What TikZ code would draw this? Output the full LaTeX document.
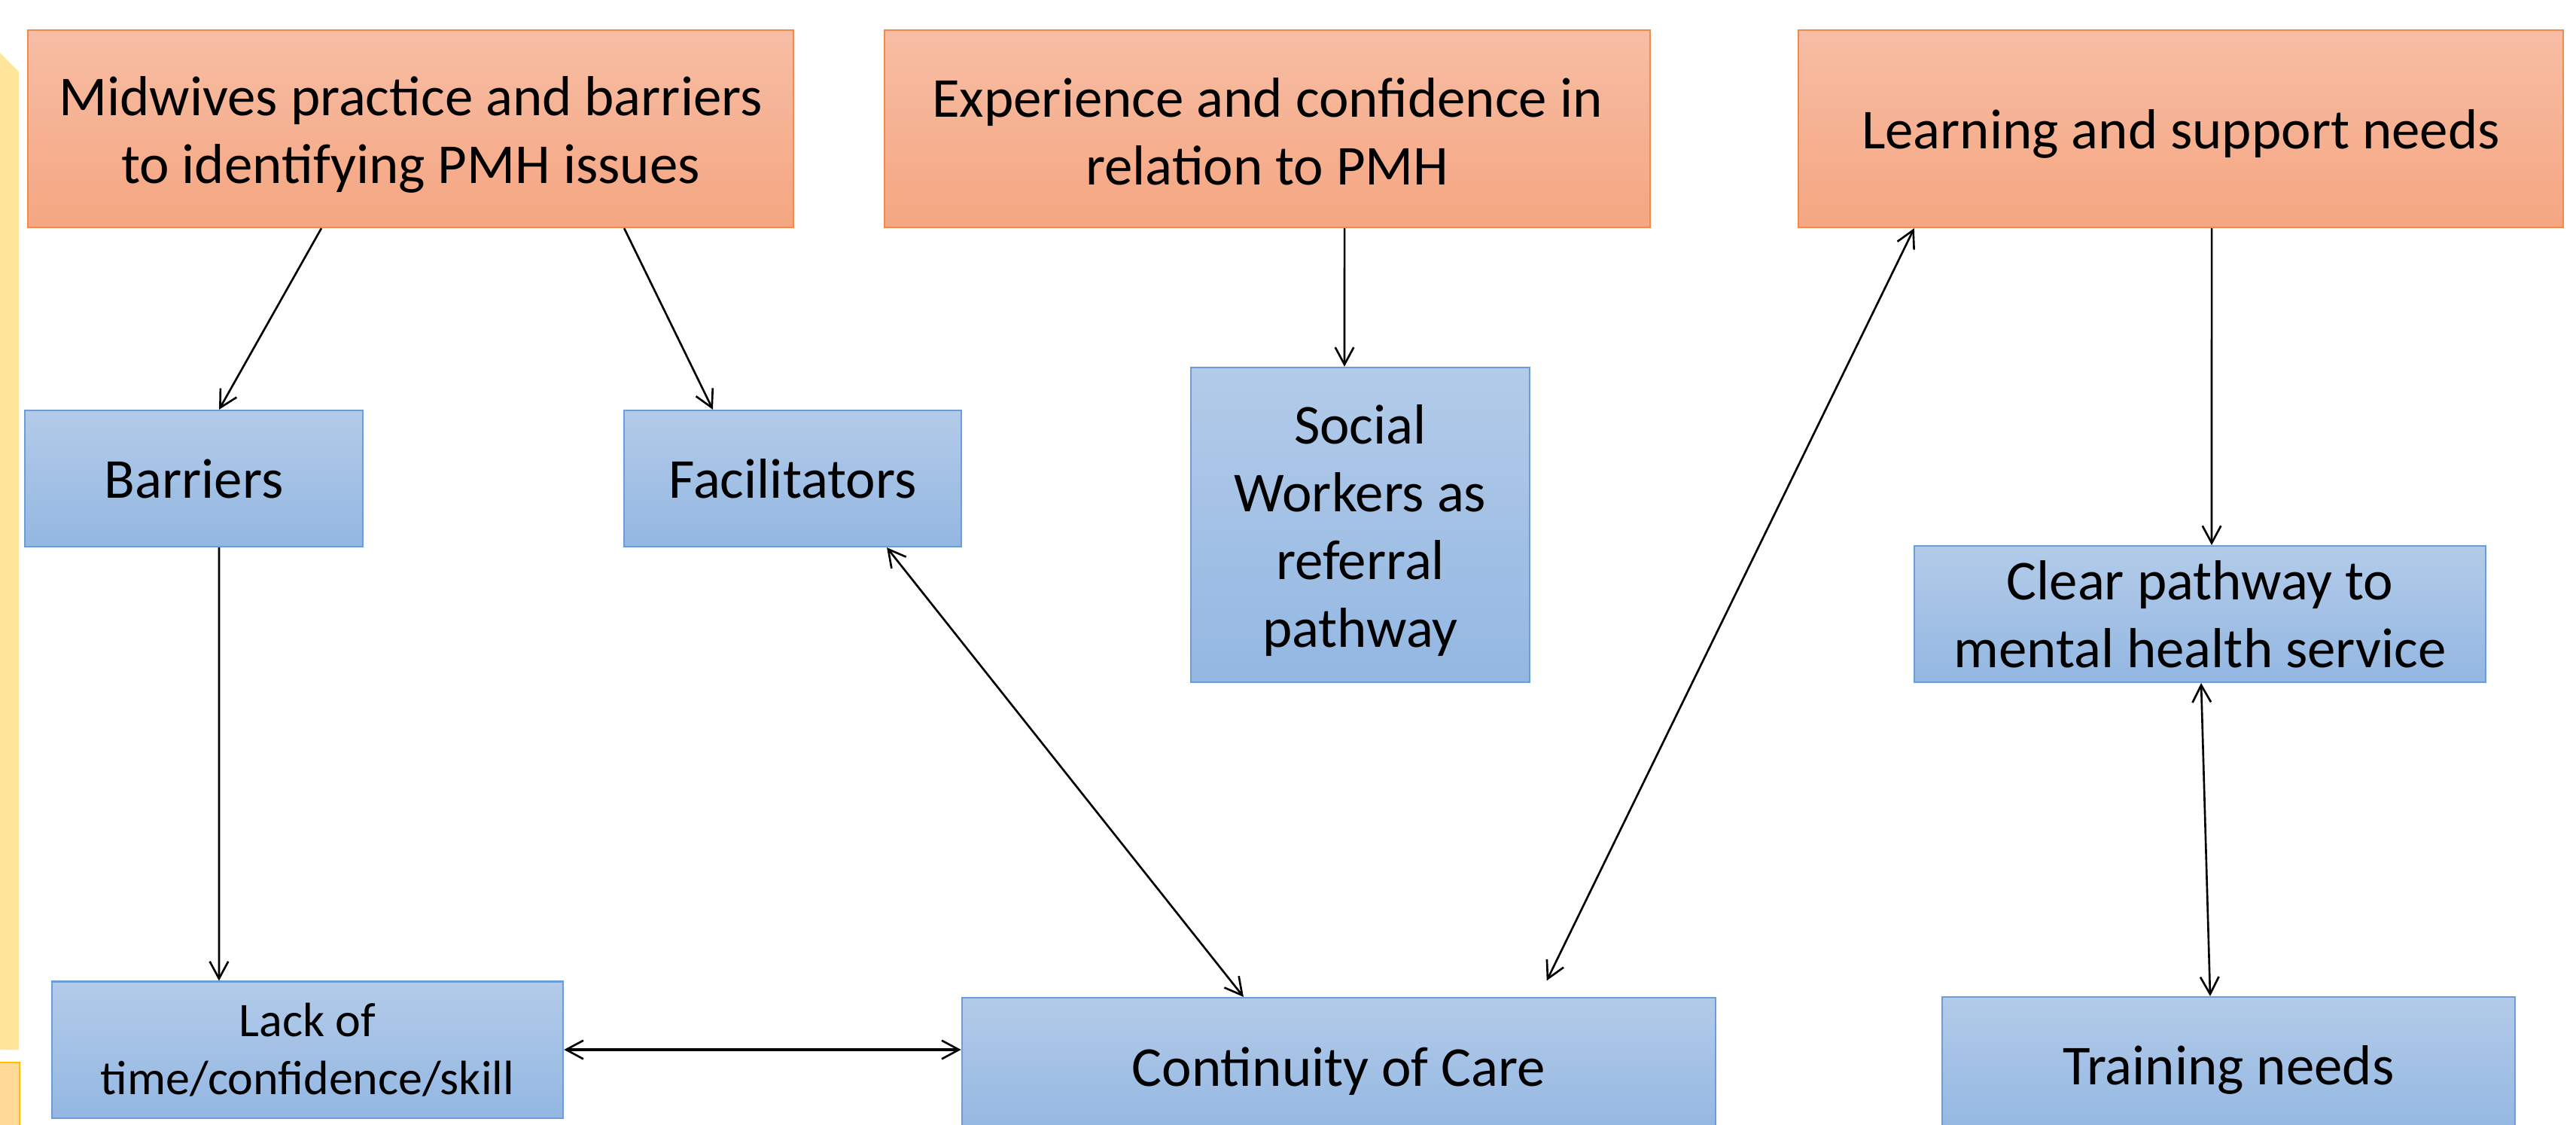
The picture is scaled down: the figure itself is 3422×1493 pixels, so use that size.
\documentclass[tikz,border=0pt]{standalone}
\usepackage{fontspec}
\setmainfont{Carlito}
\usepackage{tikz}
\usetikzlibrary{arrows.meta}

\definecolor{peachtop}{HTML}{F7BDA4}
\definecolor{peachbot}{HTML}{F5A681}
\definecolor{peachline}{HTML}{F28A4E}
\definecolor{skytop}{HTML}{B3CBE9}
\definecolor{skybot}{HTML}{93B7E2}
\definecolor{skyline}{HTML}{6A9DDA}
\definecolor{sunfill}{HTML}{FFE69A}
\definecolor{goldfill}{HTML}{FFD995}
\definecolor{goldline}{HTML}{FFC000}

\tikzset{
  theme/.style={draw=peachline, line width=0.6pt, top color=peachtop, bottom color=peachbot,
    align=center, inner sep=0pt, minimum width=10.16cm, minimum height=2.62cm,
    font=\fontsize{21.3}{25.6}\selectfont},
  item/.style={draw=skyline, line width=0.6pt, top color=skytop, bottom color=skybot,
    align=center, inner sep=0pt, minimum height=1.81cm,
    font=\fontsize{21.3}{25.6}\selectfont},
  % taller text box above the last baseline, so the text sits a little lower
  sink/.style={execute at begin node={\rule{0pt}{#1}}},
  barb/.tip={Straight Barb[length=6.5pt, width=7pt, line width=0.75pt]},
  link/.style={-barb, line width=0.75pt},
  twoway/.style={barb-barb, line width=0.75pt}
}

\begin{document}
\begin{tikzpicture}[x=0.01cm, y=-0.01cm]
    \useasboundingbox (0,0) rectangle (3422,1493);
    \clip (0,0) rectangle (3422,1493);

    % Side strips on the left edge
    \fill[sunfill] (-10,60) -- (0,70) -- (25,95) -- (25,1394) -- (-10,1394) -- cycle;
    \draw[fill=goldfill, draw=goldline, line width=0.6pt] (-10,1411) rectangle (26,1510);

    % Themes along the top
    \node[theme, sink=45.1pt] (mid) at (545.5,171) {Midwives practice and barriers\\to identifying PMH issues};
    \node[theme, sink=42.5pt] (exper) at (1683.5,171) {Experience and confidence in\\relation to PMH};
    \node[theme, sink=19pt] (learn) at (2897,171) {Learning and support needs};

    % Sub-themes
    \node[item, minimum width=4.49cm] (barr) at (257.5,635.5) {Barriers};
    \node[item, minimum width=4.48cm] (facil) at (1053,635.5) {Facilitators};
    \node[item, minimum width=4.50cm, minimum height=4.18cm, sink=95.8pt] (social) at (1807,697) {Social\\Workers as\\referral\\pathway};
    \node[item, minimum width=7.59cm] (clear) at (2922.5,815.5) {Clear pathway to\\mental health service};
    \node[item, minimum width=6.79cm, font=\fontsize{18.2}{21.9}\selectfont] (lack) at (408.5,1394) {Lack of\\time/confidence/skill};
    \node[item, minimum width=10.01cm, sink=18.5pt] (cont) at (1778.5,1415.5) {Continuity of Care};
    \node[item, minimum width=7.61cm, sink=18.5pt] (train) at (2960.5,1414.5) {Training needs};

    % One-way links
    \draw[link] ([xshift=-1.185cm]mid.south) -- ([xshift=0.335cm]barr.north);
    \draw[link] ([xshift=2.835cm]mid.south) -- ([xshift=-1.06cm]facil.north);
    \draw[link] ([xshift=1.025cm]exper.south) -- ([xshift=-0.21cm]social.north);
    \draw[link] ([xshift=0.41cm]learn.south) -- ([xshift=0.155cm]clear.north);
    \draw[link] ([xshift=0.335cm]barr.south) -- ([xshift=-1.175cm]lack.north);

    % Two-way links
    \draw[twoway, line width=1.1pt] (lack.east) -- (lack.east -| cont.west);
    \draw[twoway] ([xshift=1.25cm]facil.south) -- ([xshift=-1.265cm]cont.north);
    \draw[twoway, shorten <=0.24cm] ([xshift=2.655cm]cont.north) -- ([xshift=-3.54cm]learn.south);
    \draw[twoway] ([xshift=0.015cm]clear.south) -- ([xshift=-0.245cm]train.north);
\end{tikzpicture}
\end{document}
